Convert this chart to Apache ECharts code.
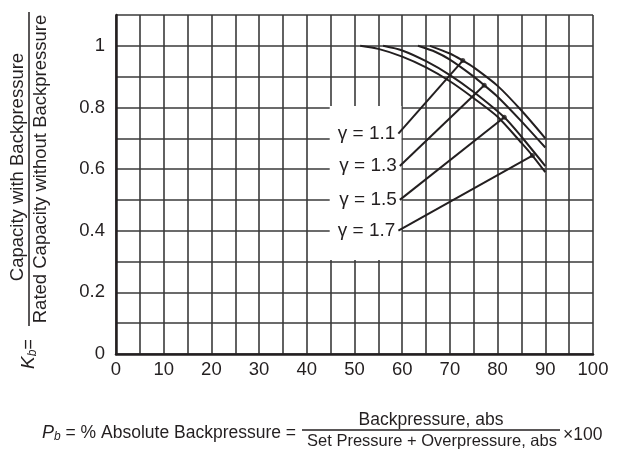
<!DOCTYPE html>
<html>
<head>
<meta charset="utf-8">
<script src="https://cdn.jsdelivr.net/npm/echarts@6/dist/echarts.min.js"></script>
<style>
  html, body { margin: 0; padding: 0; background: #fff; }
  #chart { width: 639px; height: 454px; }
</style>
</head>
<body>
<div id="chart"></div>
<script>
// curves: [Pb %, Kb]
const curveG11 = [[65.8, 1.0], [70, 0.975], [72.7, 0.952], [75, 0.93], [80, 0.87], [85, 0.79], [90, 0.70]];
const curveG13 = [[63.3, 1.0], [67, 0.98], [70, 0.955], [75, 0.90], [77.2, 0.872], [80, 0.835], [85, 0.755], [90, 0.67]];
const curveG15 = [[56, 1.0], [60, 0.985], [65, 0.95], [70, 0.905], [75, 0.85], [81.4, 0.768], [85, 0.705], [90, 0.61]];
const curveG17 = [[51.2, 1.0], [55, 0.99], [60, 0.965], [65, 0.93], [70, 0.885], [75, 0.83], [80, 0.77], [85, 0.685], [87.3, 0.644], [90, 0.59]];

const gammaLabels = ['γ = 1.1', 'γ = 1.3', 'γ = 1.5', 'γ = 1.7'];
// leader line: label end -> dot on curve
const leaderStart = [[59.2, 0.715], [59.5, 0.61], [59.5, 0.50], [59.2, 0.40]];
const leaderEnd = [[72.7, 0.952], [77.2, 0.872], [81.4, 0.768], [87.3, 0.644]];
// white box behind the labels
const labelBox = [[44.8, 0.305], [59.85, 0.805]];

const ink = '#231f20';
const font = 'Liberation Sans, Arial, sans-serif';

const chart = echarts.init(document.getElementById('chart'), null, { renderer: 'canvas' });

const curves = [curveG11, curveG13, curveG15, curveG17].map(d => ({
  type: 'line', data: d, smooth: 0.25, symbol: 'none', z: 3,
  lineStyle: { color: ink, width: 2 }
}));

const leaders = leaderStart.map((s, i) => ({
  type: 'line', symbol: 'none', z: 4,
  lineStyle: { color: ink, width: 2 },
  data: [s, leaderEnd[i]]
}));

chart.setOption({
  animation: false,
  grid: { left: 116, right: 46, top: 15, bottom: 100 },
  xAxis: {
    type: 'value', min: 0, max: 100, interval: 5,
    axisLine: { lineStyle: { color: ink, width: 2.5 } },
    axisTick: { show: false },
    axisLabel: {
      color: ink, fontSize: 18.5, fontFamily: font, margin: 6,
      formatter: v => (v % 10 === 0 ? String(v) : '')
    },
    splitLine: { lineStyle: { color: '#3a3a3a', width: 1.6 } }
  },
  yAxis: {
    type: 'value', min: 0, max: 1.1, interval: 0.1,
    axisLine: { show: true, lineStyle: { color: ink, width: 2.5 } },
    axisTick: { show: false },
    axisLabel: {
      color: ink, fontSize: 18.5, fontFamily: font, margin: 11,
      formatter: v => {
        const t = Math.round(v * 10);
        return (t % 2 === 0 && t <= 10) ? String(t / 10) : '';
      }
    },
    splitLine: { lineStyle: { color: '#3a3a3a', width: 1.6 } }
  },
  series: [
    {
      type: 'scatter', data: [], z: 1, silent: true,
      markArea: {
        silent: true,
        itemStyle: { color: '#ffffff', opacity: 1 },
        data: [[{ coord: labelBox[0] }, { coord: labelBox[1] }]]
      }
    },
    ...curves,
    ...leaders,
    {
      type: 'scatter', data: leaderEnd, symbolSize: 5, z: 5,
      itemStyle: { color: ink }
    },
    {
      type: 'scatter', symbol: 'circle', symbolSize: 0, z: 6, silent: true,
      itemStyle: { color: ink, opacity: 1 },
      data: leaderStart.map((s, i) => ({ value: s, name: gammaLabels[i] })),
      label: {
        show: true, position: 'left', distance: 3,
        formatter: p => p.name,
        color: ink, fontSize: 19, fontFamily: font, opacity: 1
      }
    }
  ],
  graphic: [
    // y axis title, read bottom to top
    {
      type: 'text', x: 18, y: 167, rotation: Math.PI / 2,
      style: { text: 'Capacity with Backpressure', font: '18.5px ' + font, fill: ink,
        align: 'center', verticalAlign: 'middle' }
    },
    {
      type: 'line', shape: { x1: 29, y1: 12, x2: 29, y2: 326 },
      style: { stroke: ink, lineWidth: 1.5 }
    },
    {
      type: 'text', x: 41, y: 169, rotation: Math.PI / 2,
      style: { text: 'Rated Capacity without Backpressure', font: '18.5px ' + font, fill: ink,
        align: 'center', verticalAlign: 'middle' }
    },
    {
      type: 'text', x: 29, y: 354, rotation: Math.PI / 2,
      style: {
        text: '{i|K}{s|b}{n|=}', align: 'center', verticalAlign: 'middle', fill: ink,
        rich: {
          i: { font: 'italic 19px ' + font, fill: ink },
          s: { font: 'italic 12px ' + font, fill: ink, verticalAlign: 'bottom', padding: [7, 0, 0, 0] },
          n: { font: '18px ' + font, fill: ink }
        }
      }
    },
    // x axis title
    {
      type: 'text', x: 42, y: 433,
      style: {
        text: '{i|P}{s|b}{n| = % Absolute Backpressure =}', align: 'left', verticalAlign: 'middle', fill: ink,
        rich: {
          i: { font: 'italic 18px ' + font, fill: ink },
          s: { font: 'italic 12px ' + font, fill: ink, verticalAlign: 'bottom', padding: [7, 0, 0, 0] },
          n: { font: '17.5px ' + font, fill: ink }
        }
      }
    },
    {
      type: 'text', x: 431, y: 420,
      style: { text: 'Backpressure, abs', font: '17.5px ' + font, fill: ink, align: 'center', verticalAlign: 'middle' }
    },
    {
      type: 'line', shape: { x1: 302, y1: 430, x2: 560, y2: 430 },
      style: { stroke: ink, lineWidth: 1.5 }
    },
    {
      type: 'text', x: 432, y: 441,
      style: { text: 'Set Pressure + Overpressure, abs', font: '16.5px ' + font, fill: ink, align: 'center', verticalAlign: 'middle' }
    },
    {
      type: 'text', x: 563, y: 435,
      style: { text: '×100', font: '17.5px ' + font, fill: ink, align: 'left', verticalAlign: 'middle' }
    }
  ]
});
</script>
</body>
</html>
